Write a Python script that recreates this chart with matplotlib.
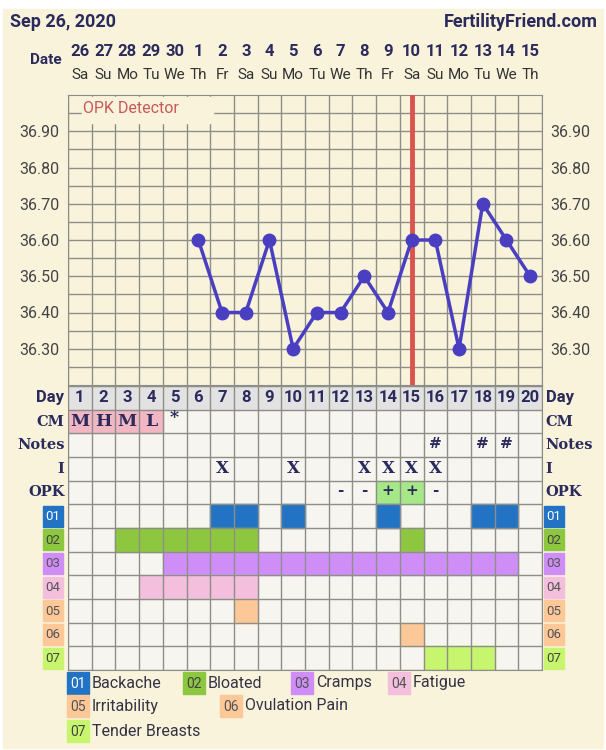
import numpy as np
import matplotlib
matplotlib.use("Agg")
import matplotlib.pyplot as plt
from matplotlib.patches import Rectangle

# ── data ────────────────────────────────────────────────────────────────────
dates     = ["26", "27", "28", "29", "30", "1", "2", "3", "4", "5",
             "6", "7", "8", "9", "10", "11", "12", "13", "14", "15"]
weekdays  = ["Sa", "Su", "Mo", "Tu", "We", "Th", "Fr", "Sa", "Su", "Mo",
             "Tu", "We", "Th", "Fr", "Sa", "Su", "Mo", "Tu", "We", "Th"]
cycle_day = list(range(1, 21))

temp_days = [6, 7, 8, 9, 10, 11, 12, 13, 14, 15, 16, 17, 18, 19, 20]
temps     = [36.60, 36.40, 36.40, 36.60, 36.30, 36.40, 36.40, 36.50,
             36.40, 36.60, 36.60, 36.30, 36.70, 36.60, 36.50]
temp_ticks = [36.30, 36.40, 36.50, 36.60, 36.70, 36.80, 36.90]
ovulation_day = 15

cm_days   = [1, 2, 3, 4, 5]
cm_marks  = ["M", "H", "M", "L", "*"]
note_days = [16, 18, 19]
sex_days  = [7, 10, 13, 14, 15, 16]
opk_days  = [12, 13, 14, 15, 16]
opk_marks = ["-", "-", "+", "+", "-"]

symptom_codes  = ["01", "02", "03", "04", "05", "06", "07"]
symptom_names  = ["Backache", "Bloated", "Cramps", "Fatigue",
                  "Irritability", "Ovulation Pain", "Tender Breasts"]
symptom_days = [
    [7, 8, 10, 14, 18, 19],
    [3, 4, 5, 6, 7, 8, 15],
    [5, 6, 7, 8, 9, 10, 11, 12, 13, 14, 15, 16, 17, 18, 19],
    [4, 5, 6, 7, 8],
    [8],
    [15],
    [16, 17, 18],
]
symptom_colors = ["#2273c3", "#8dc63f", "#cf8ef7", "#f3bfdc",
                  "#fcc898", "#fcc898", "#c8f56e"]
symptom_textc  = ["white", "#444444", "#555555", "#555555",
                  "#555555", "#555555", "#444444"]

# ── style ───────────────────────────────────────────────────────────────────
CREAM = "#f9f3dc"
CELL  = "#f6f5f0"
GRID  = "#8e8e88"
NAVY  = "#2b2a5c"
SANS  = "Roboto"
SERIF = "DejaVu Serif"

W, H = 606, 750
fig = plt.figure(figsize=(W / 100, H / 100), dpi=100, facecolor="white")

def fx(px):
    return px / W

def fy(py):
    return 1 - py / H

fig.patches.append(Rectangle((fx(3), fy(748)), fx(600), 739 / H,
                             transform=fig.transFigure, color=CREAM, zorder=-5))

# header
fig.text(fx(10), fy(22), "Sep 26, 2020", fontsize=13, fontweight="bold",
         family=SANS, color=NAVY, va="center", ha="left")
fig.text(fx(598), fy(22), "FertilityFriend.com", fontsize=13, fontweight="bold",
         family=SANS, color=NAVY, va="center", ha="right")

X0, X1 = 68, 542
ax_t = fig.add_axes([fx(X0), fy(385), fx(X1 - X0), 290 / H])
ax_b = fig.add_axes([fx(X0), fy(670), fx(X1 - X0), 284 / H])

# ── temperature chart ───────────────────────────────────────────────────────
ax_t.set_facecolor(CREAM)
ax_t.set_xlim(0, 20)
ax_t.set_ylim(36.2, 37.0)
for xv in range(21):
    ax_t.axvline(xv, color=GRID, lw=1, zorder=1)
for yv in np.arange(36.25, 36.999, 0.05):
    ax_t.axhline(yv, color=GRID, lw=1, zorder=1)
for s in ax_t.spines.values():
    s.set_color(GRID)

# OPK detector label over the top row
ax_t.add_patch(Rectangle((0.6, 36.924), 5.52, 0.07, color=CREAM, zorder=2))
ax_t.text(0.65, 36.963, "OPK Detector", color="#c8585a", fontsize=11.5,
          family=SANS, va="center", ha="left", zorder=3)

ax_t.axvline(ovulation_day - 0.5, color="#d9534f", lw=3.5, zorder=3)
ax_t.plot(np.array(temp_days) - 0.5, temps, color="#4a3fc0", lw=2.5,
          marker="o", ms=9, zorder=4)

ax_t.set_yticks(temp_ticks)
ax_t.set_yticklabels([f"{v:.2f}" for v in temp_ticks])
ax_t.set_xticks([])
ax_t.tick_params(axis="y", length=0, pad=6, labelsize=11.5,
                 labelcolor="#444444", labelleft=True, labelright=True)
for lab in ax_t.get_yticklabels():
    lab.set_family(SANS)

# date header
for i, (d, w) in enumerate(zip(dates, weekdays)):
    xc = fx(X0 + (i + 0.5) * (X1 - X0) / 20)
    fig.text(xc, fy(52), d, fontsize=12, fontweight="bold", family=SANS,
             color=NAVY, ha="center", va="center")
    fig.text(xc, fy(75), w, fontsize=11, family=SANS, color="#333333",
             ha="center", va="center")
fig.text(fx(62), fy(60), "Date", fontsize=11, fontweight="bold", family=SANS,
         color=NAVY, ha="right", va="center")

# ── bottom table ────────────────────────────────────────────────────────────
ax_b.set_facecolor(CELL)
ax_b.set_xlim(0, 20)
ax_b.set_ylim(12, 0)
ax_b.set_xticks([])
ax_b.set_yticks([])
for s in ax_b.spines.values():
    s.set_color(GRID)

ax_b.add_patch(Rectangle((0, 0), 20, 1, color="#e2e2e2", zorder=1))
for d in cycle_day:
    ax_b.text(d - 0.5, 0.5, str(d), fontsize=12, fontweight="bold", family=SANS,
              color=NAVY, ha="center", va="center", zorder=3)

for d, m in zip(cm_days, cm_marks):
    if m != "*":
        ax_b.add_patch(Rectangle((d - 1, 1), 1, 1, color="#f3b7c4", zorder=1))
    ax_b.text(d - 0.5, 1.5 if m != "*" else 1.35, m, fontsize=12.5,
              fontweight="bold", family=SERIF, color=NAVY,
              ha="center", va="center", zorder=3)

for d in note_days:
    ax_b.text(d - 0.5, 2.45, "#", fontsize=11, fontweight="bold", family=SERIF,
              color=NAVY, ha="center", va="center", zorder=3)
for d in sex_days:
    ax_b.text(d - 0.5, 3.5, "X", fontsize=12, fontweight="bold", family=SERIF,
              color=NAVY, ha="center", va="center", zorder=3)
for d, m in zip(opk_days, opk_marks):
    if m == "+":
        ax_b.add_patch(Rectangle((d - 1, 4), 1, 1, color="#a6e887", zorder=1))
    ax_b.text(d - 0.5, 4.45, m, fontsize=11, fontweight="bold", family=SERIF,
              color=NAVY, ha="center", va="center", zorder=3)

for r, (days, col) in enumerate(zip(symptom_days, symptom_colors)):
    for d in days:
        ax_b.add_patch(Rectangle((d - 1, 5 + r), 1, 1, color=col, zorder=1))

for xv in range(21):
    ax_b.axvline(xv, color=GRID, lw=1, zorder=2)
for yv in range(13):
    ax_b.axhline(yv, color=GRID, lw=1, zorder=2)

# row labels, both sides
row_labels = ["Day", "CM", "Notes", "I", "OPK"]
for r, lab in enumerate(row_labels):
    fam = SANS if lab == "Day" else SERIF
    size = 12 if lab == "Day" else 10.5
    ax_b.text(-0.15, r + 0.5, lab, fontsize=size, fontweight="bold", family=fam,
              color=NAVY, ha="right", va="center", clip_on=False)
    ax_b.text(20.15, r + 0.5, lab, fontsize=size, fontweight="bold", family=fam,
              color=NAVY, ha="left", va="center", clip_on=False)

for r, (code, col, tc) in enumerate(zip(symptom_codes, symptom_colors, symptom_textc)):
    for x0 in (-1.05, 20.08):
        ax_b.add_patch(Rectangle((x0, 5 + r + 0.06), 0.85, 0.88, color=col,
                                 clip_on=False, zorder=1))
        ax_b.text(x0 + 0.425, 5 + r + 0.52, code, fontsize=9.5, family=SANS,
                  color=tc, ha="center", va="center", clip_on=False, zorder=3)

# ── legend ──────────────────────────────────────────────────────────────────
legend_pos = [(67, 683), (183, 683), (291, 683), (388, 683),
              (67, 706), (220, 706), (67, 731)]
for (px, py), code, name, col, tc in zip(legend_pos, symptom_codes,
                                         symptom_names, symptom_colors,
                                         symptom_textc):
    fig.patches.append(Rectangle((fx(px), fy(py + 11)), fx(22), 22 / H,
                                 transform=fig.transFigure, color=col, zorder=1))
    fig.text(fx(px + 11), fy(py + 1), code, fontsize=10, family=SANS, color=tc,
             ha="center", va="center", zorder=2)
    fig.text(fx(px + 25), fy(py), name, fontsize=11.5, family=SANS,
             color="#333344", ha="left", va="center", zorder=2)

fig.savefig("out.png", dpi=100, facecolor=fig.get_facecolor())
